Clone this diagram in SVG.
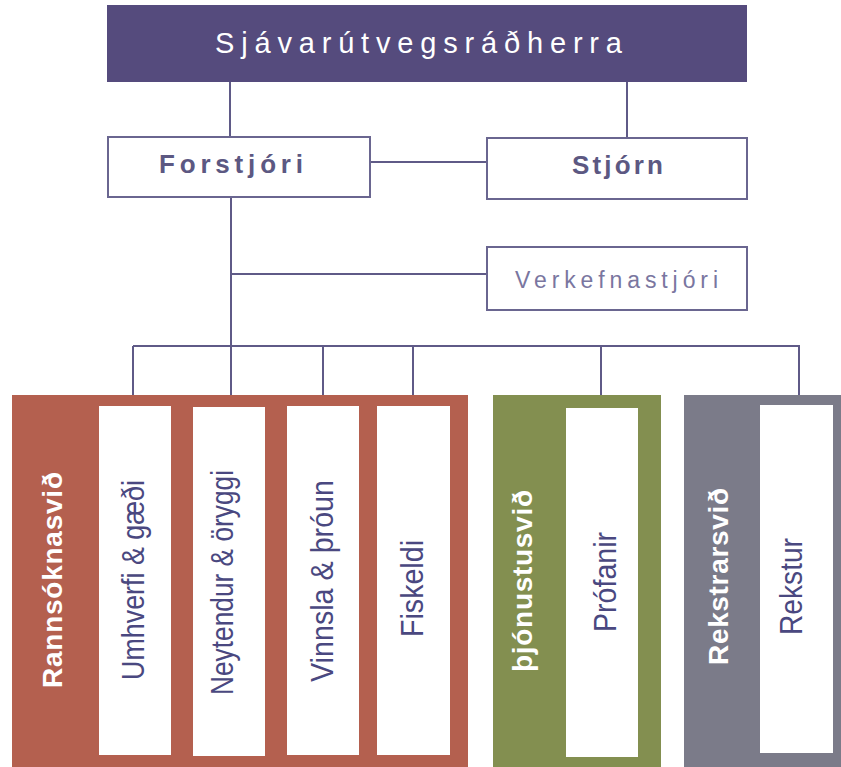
<svg xmlns="http://www.w3.org/2000/svg" width="841" height="767" viewBox="0 0 841 767">
<style>
.ln{stroke:#5f5a87;stroke-width:2;fill:none}
.box{fill:#ffffff;stroke:#6a6690;stroke-width:2}
.inner{fill:#ffffff}
.hdr{font-family:"Liberation Sans",Arial,sans-serif;font-weight:bold;fill:#5c5882}
.sub{font-family:"Liberation Sans",Arial,sans-serif;font-size:31px;fill:#4a4880}
.side{font-family:"Liberation Sans",Arial,sans-serif;font-weight:bold;font-size:28px;fill:#ffffff}
</style>
<rect width="841" height="767" fill="#ffffff"/>
<g id="connectors">
<line class="ln" x1="230" y1="82" x2="230" y2="138"/>
<line class="ln" x1="627" y1="82" x2="627" y2="138"/>
<line class="ln" x1="370" y1="162" x2="487" y2="162"/>
<line class="ln" x1="231" y1="197" x2="231" y2="346"/>
<line class="ln" x1="231" y1="274" x2="487" y2="274"/>
<line class="ln" x1="133" y1="346" x2="800" y2="346"/>
<line class="ln" x1="133" y1="346" x2="133" y2="395"/>
<line class="ln" x1="231" y1="346" x2="231" y2="395"/>
<line class="ln" x1="323" y1="346" x2="323" y2="395"/>
<line class="ln" x1="413" y1="346" x2="413" y2="395"/>
<line class="ln" x1="601" y1="346" x2="601" y2="395"/>
<line class="ln" x1="799" y1="346" x2="799" y2="395"/>
</g>
<g id="minister">
<rect x="107" y="5" width="640" height="77" fill="#554b7d"/>
<text x="215" y="53" textLength="407" lengthAdjust="spacing" font-family="Liberation Sans, Arial, sans-serif" font-size="29" fill="#ffffff">Sjávarútvegsráðherra</text>
</g>
<g id="forstjori">
<rect class="box" x="108" y="137" width="262" height="60"/>
<text class="hdr" x="159" y="173" font-size="26" textLength="144" lengthAdjust="spacing">Forstjóri</text>
</g>
<g id="stjorn">
<rect class="box" x="487" y="138" width="260" height="61"/>
<text class="hdr" x="572" y="174" font-size="26" textLength="91" lengthAdjust="spacing">Stjórn</text>
</g>
<g id="verkefnastjori">
<rect class="box" x="487" y="247" width="260" height="63"/>
<text x="515" y="288" font-family="Liberation Sans, Arial, sans-serif" font-size="23" fill="#7a76a0" textLength="203" lengthAdjust="spacing">Verkefnastjóri</text>
</g>
<g id="rannsoknasvid">
<rect x="12" y="395" width="456" height="380" fill="#b4604f"/>
<text class="side" transform="translate(62,580) rotate(-90)" text-anchor="middle" textLength="216" lengthAdjust="spacing">Rannsóknasvið</text>
</g>
<g id="umhverfi">
<rect class="inner" x="99" y="406" width="72" height="349"/>
<text class="sub" transform="translate(144,580) rotate(-90)" text-anchor="middle" textLength="200" lengthAdjust="spacingAndGlyphs">Umhverfi &amp; gæði</text>
</g>
<g id="neytendur">
<rect class="inner" x="193" y="407" width="72" height="349"/>
<text class="sub" transform="translate(233,582.5) rotate(-90)" text-anchor="middle" textLength="225" lengthAdjust="spacingAndGlyphs">Neytendur &amp; öryggi</text>
</g>
<g id="vinnsla">
<rect class="inner" x="287" y="406" width="72" height="349"/>
<text class="sub" transform="translate(333,581) rotate(-90)" text-anchor="middle" textLength="202" lengthAdjust="spacingAndGlyphs">Vinnsla &amp; þróun</text>
</g>
<g id="fiskeldi">
<rect class="inner" x="377" y="406" width="73" height="349"/>
<text class="sub" transform="translate(423,588.5) rotate(-90)" text-anchor="middle" textLength="97" lengthAdjust="spacingAndGlyphs">Fiskeldi</text>
</g>
<g id="thjonustusvid">
<rect x="493" y="395" width="168" height="380" fill="#838f50"/>
<text class="side" transform="translate(532,581) rotate(-90)" text-anchor="middle" textLength="182" lengthAdjust="spacing">þjónustusvið</text>
</g>
<g id="profanir">
<rect class="inner" x="566" y="408" width="72" height="349"/>
<text class="sub" transform="translate(616,582) rotate(-90)" text-anchor="middle" textLength="100" lengthAdjust="spacingAndGlyphs">Prófanir</text>
</g>
<g id="rekstrarsvid">
<rect x="684" y="395" width="160" height="380" fill="#7b7b89"/>
<text class="side" transform="translate(728,576.5) rotate(-90)" text-anchor="middle" textLength="177" lengthAdjust="spacing">Rekstrarsvið</text>
</g>
<g id="rekstur">
<rect class="inner" x="760" y="405" width="73" height="348"/>
<text class="sub" transform="translate(802,586.5) rotate(-90)" text-anchor="middle" textLength="97" lengthAdjust="spacingAndGlyphs">Rekstur</text>
</g>
</svg>
